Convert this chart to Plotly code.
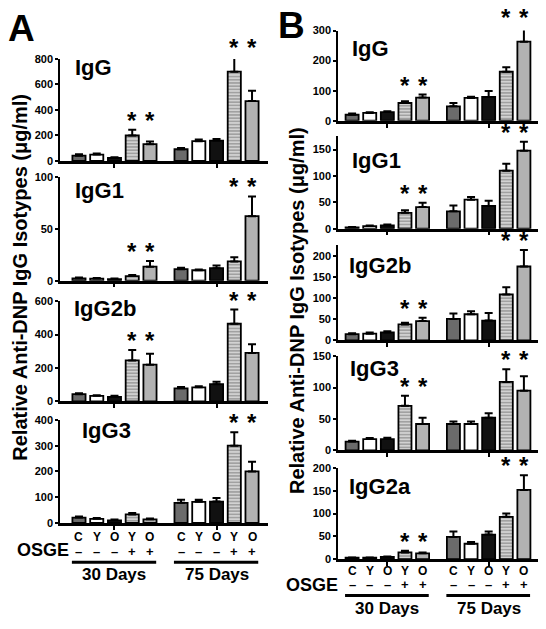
import plotly.graph_objects as go

W, H = 546, 629

# ---------------- data ----------------
cat_letters = ["C", "Y", "O", "Y", "O"]
osge_signs = ["–", "–", "–", "+", "+"]
group_labels = ["30 Days", "75 Days"]
bar_pos = [0, 1, 2, 3, 4, 5.75, 6.75, 7.75, 8.75, 9.75]

# Panel A (means and SEM), order: 30d C,Y,O,Y+,O+ then 75d C,Y,O,Y+,O+
A_IgG_mean = [42, 50, 25, 200, 132, 92, 155, 160, 700, 470]
A_IgG_sem = [10, 8, 5, 45, 20, 10, 13, 12, 115, 80]
A_IgG1_mean = [2.2, 2.0, 1.5, 4.4, 13.4, 11, 10, 12, 18.5, 62]
A_IgG1_sem = [0.8, 0.5, 0.5, 1.0, 5.5, 1.5, 0.7, 2.5, 4, 19]
A_IgG2b_mean = [43, 33, 27, 245, 220, 78, 84, 103, 465, 290]
A_IgG2b_sem = [6, 3, 6, 63, 65, 8, 6, 14, 85, 52]
A_IgG3_mean = [21, 16, 10, 33, 14, 78, 82, 83, 300, 200]
A_IgG3_sem = [4, 3, 3, 6, 3, 12, 8, 14, 52, 38]

# Panel B
B_IgG_mean = [20, 26, 29, 59, 77, 48, 76, 79, 163, 263]
B_IgG_sem = [4, 2, 3, 6, 10, 11, 4, 20, 15, 50]
B_IgG1_mean = [2.5, 5, 6, 30, 41, 33, 55, 43, 110, 148]
B_IgG1_sem = [0.5, 1.2, 2, 5, 8, 11, 5, 10, 13, 17]
B_IgG2b_mean = [15, 16, 19, 38, 46, 51, 62, 47, 109, 175]
B_IgG2b_sem = [2, 3, 3, 4, 8, 13, 7, 18, 17, 39]
B_IgG3_mean = [14, 18, 18, 71, 42, 42, 42, 52, 109, 95]
B_IgG3_sem = [1.5, 1.5, 2, 16, 10, 4, 4, 7, 20, 23]
B_IgG2a_mean = [3.5, 3.5, 5, 15, 13, 49, 34, 54, 93, 152]
B_IgG2a_sem = [0.5, 0.5, 1, 3.6, 2, 12, 4, 7, 7, 32]

# significance per group (30 d, 75 d)
A_sig = [[True, True], [True, True], [True, True], [False, True]]
B_sig = [[True, True]] * 5

# ---------------- styles ----------------
FONT = "Liberation Sans, Arial, sans-serif"
bar_colors = ["#6b6b6b", "#ffffff", "#111111", "#d2d2d2", "#b2b2b2"] * 2
bar_patterns = ["", "", "", "-", ""] * 2

panels = [
    # name, mean, sem, ymax, dtick, sig, column, top_px, bottom_px, title x, title y
    ("IgG", A_IgG_mean, A_IgG_sem, 800, 200, A_sig[0], "A", 54, 158, 73, 63),
    ("IgG1", A_IgG1_mean, A_IgG1_sem, 100, 50, A_sig[1], "A", 174, 280, 73, 188),
    ("IgG2b", A_IgG2b_mean, A_IgG2b_sem, 600, 200, A_sig[2], "A", 301, 403, 72, 308),
    ("IgG3", A_IgG3_mean, A_IgG3_sem, 400, 100, A_sig[3], "A", 422, 527, 80, 433),
    ("IgG", B_IgG_mean, B_IgG_sem, 300, 100, B_sig[0], "B", 25, 117, 350, 43),
    ("IgG1", B_IgG1_mean, B_IgG1_sem, 175, 50, B_sig[1], "B", 133, 227, 350, 157),
    ("IgG2b", B_IgG2b_mean, B_IgG2b_sem, 225, 50, B_sig[2], "B", 244, 341, 347, 265),
    ("IgG3", B_IgG3_mean, B_IgG3_sem, 150, 50, B_sig[3], "B", 357, 453, 348, 370),
    ("IgG2a", B_IgG2a_mean, B_IgG2a_sem, 200, 50, B_sig[4], "B", 471, 564, 347, 490),
]

col_x = {"A": (60, 268), "B": (338, 538)}
col_range = {"A": [-1.07, 10.65], "B": [-0.8, 10.55]}

fig = go.Figure()
layout = dict(
    width=W, height=H, margin=dict(l=0, r=0, t=0, b=0),
    paper_bgcolor="white", plot_bgcolor="white", showlegend=False,
    font=dict(family=FONT, color="black"),
)
annotations = []
shapes = []

for i, (name, mean, sem, ymax, dtick, sig, col, top, bot, tx, ty) in enumerate(panels, start=1):
    xa = "x" if i == 1 else f"x{i}"
    ya = "y" if i == 1 else f"y{i}"
    fig.add_trace(go.Bar(
        x=bar_pos, y=mean, width=0.74, xaxis=xa, yaxis=ya,
        marker=dict(color=bar_colors, line=dict(color="black", width=1.8),
                    pattern=dict(shape=bar_patterns, fgcolor="#8a8a8a", size=3.2,
                                 solidity=0.35, fillmode="overlay")),
        error_y=dict(type="data", array=sem, arrayminus=[0] * len(sem), symmetric=False,
                     color="black", thickness=2, width=4),
        cliponaxis=False, hoverinfo="skip",
    ))
    x0, x1 = col_x[col]
    layout["xaxis" if i == 1 else f"xaxis{i}"] = dict(
        domain=[x0 / W, x1 / W], range=col_range[col], anchor=ya,
        showline=True, linewidth=2.5, linecolor="black", showgrid=False, zeroline=False,
        ticks="outside", tickvals=[bar_pos[2], bar_pos[7]], ticklen=4, tickwidth=2,
        tickcolor="black", showticklabels=False, fixedrange=True,
    )
    tvals = list(range(0, ymax + 1, dtick))
    layout["yaxis" if i == 1 else f"yaxis{i}"] = dict(
        domain=[1 - bot / H, 1 - top / H], range=[0, ymax], anchor=xa,
        showline=True, linewidth=1.6, linecolor="black", showgrid=False, zeroline=False,
        ticks="outside", ticklen=3, tickwidth=1.5, tickcolor="black",
        tickvals=tvals, ticktext=[f"<b>{v}</b>" for v in tvals],
        tickfont=dict(size=11, family=FONT, color="black"), fixedrange=True,
    )
    # panel title
    annotations.append(dict(text=f"<b>{name}</b>", xref="paper", yref="paper",
                            x=tx / W, y=1 - ty / H, xanchor="left", yanchor="middle",
                            showarrow=False, font=dict(size=22, family=FONT)))
    # asterisks (positioned relative to the y-axis domain so they may sit above the axis top)
    for g in range(2):
        if sig[g]:
            idx = [g * 5 + 3, g * 5 + 4]
            ytop = max(mean[k] + sem[k] for k in idx)
            for k in idx:
                annotations.append(dict(text="<b>*</b>", xref=xa, yref=f"{ya} domain",
                                        x=bar_pos[k], y=ytop / ymax,
                                        xanchor="center", yanchor="bottom", yshift=-6,
                                        showarrow=False, font=dict(size=24, family=FONT)))

# bottom category labels
bottom_specs = [
    # column, bottom axis, letters y, signs y, line y, days y, OSGE x, OSGE y
    ("A", "x4", 541, 556, 567, 580, 43, 555),
    ("B", "x9", 576, 590, 601, 614, 312, 590),
]
for col, xr, ly, sy, liy, dy, ox, oy in bottom_specs:
    for g in range(2):
        for j in range(5):
            k = g * 5 + j
            annotations.append(dict(text=f"<b>{cat_letters[j]}</b>", xref=xr, yref="paper",
                                    x=bar_pos[k], y=1 - ly / H, xanchor="center", yanchor="middle",
                                    showarrow=False, font=dict(size=12, family=FONT)))
            annotations.append(dict(text=f"<b>{osge_signs[j]}</b>", xref=xr, yref="paper",
                                    x=bar_pos[k], y=1 - sy / H, xanchor="center", yanchor="middle",
                                    showarrow=False, font=dict(size=13, family=FONT)))
        shapes.append(dict(type="line", xref=xr, yref="paper",
                           x0=bar_pos[g * 5] - 0.4, x1=bar_pos[g * 5 + 4] + 0.35,
                           y0=1 - liy / H, y1=1 - liy / H, line=dict(color="black", width=3)))
        annotations.append(dict(text=f"<b>{group_labels[g]}</b>", xref=xr, yref="paper",
                                x=(bar_pos[g * 5] + bar_pos[g * 5 + 4]) / 2, y=1 - dy / H,
                                xanchor="center", yanchor="middle", showarrow=False,
                                font=dict(size=17, family=FONT)))
    annotations.append(dict(text="<b>OSGE</b>", xref="paper", yref="paper", x=ox / W, y=1 - oy / H,
                            xanchor="center", yanchor="middle", showarrow=False,
                            font=dict(size=18, family=FONT)))

# y-axis titles
ytitle = "<b>Relative Anti-DNP IgG Isotypes (μg/ml)</b>"
annotations.append(dict(text=ytitle, xref="paper", yref="paper", x=20 / W, y=1 - 277 / H,
                        textangle=-90, xanchor="center", yanchor="middle", showarrow=False,
                        font=dict(size=20, family=FONT)))
annotations.append(dict(text=ytitle, xref="paper", yref="paper", x=297 / W, y=1 - 311 / H,
                        textangle=-90, xanchor="center", yanchor="middle", showarrow=False,
                        font=dict(size=20, family=FONT)))

# panel letters
annotations.append(dict(text="<b>A</b>", xref="paper", yref="paper", x=6 / W, y=1 - 23 / H,
                        xanchor="left", yanchor="middle", showarrow=False, font=dict(size=37, family=FONT)))
annotations.append(dict(text="<b>B</b>", xref="paper", yref="paper", x=276 / W, y=1 - 20 / H,
                        xanchor="left", yanchor="middle", showarrow=False, font=dict(size=37, family=FONT)))

layout["annotations"] = annotations
layout["shapes"] = shapes
fig.update_layout(**layout)
fig.write_html("out.html", config={"displayModeBar": False},
               post_script="document.body.style.margin='0px';document.body.style.overflow='hidden';")
